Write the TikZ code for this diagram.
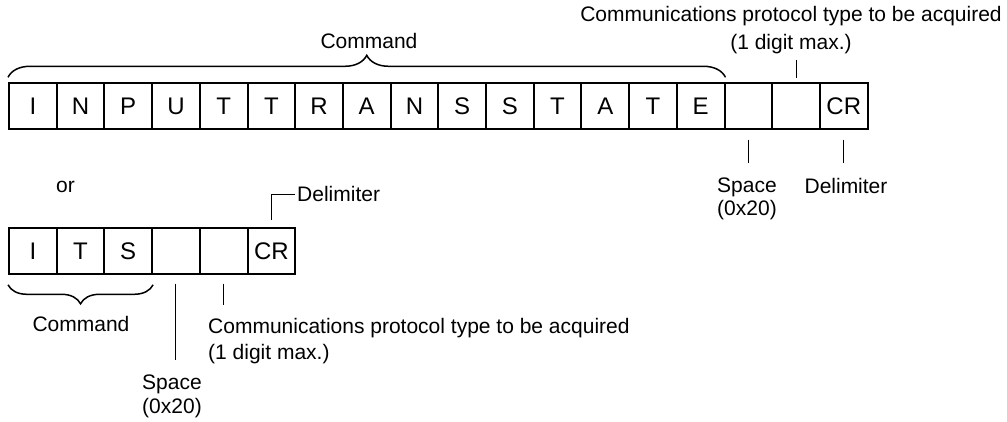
\documentclass[tikz,border=0pt]{standalone}
\usepackage{fontspec}
\setmainfont{Liberation Sans}
\usetikzlibrary{decorations.pathreplacing,calc}
\begin{document}
\begin{tikzpicture}[x=1pt,y=-1pt,
  cell/.style={draw, line width=2pt, minimum width=47.7pt, minimum height=46pt,
    inner sep=0pt, text height=17.2pt, text depth=0pt,
    font=\fontsize{24}{28}\selectfont},
  lbl/.style={inner sep=0pt, font=\fontsize{21}{24}\selectfont},
  leader/.style={line width=1pt},
  bracestyle/.style={line width=1.5pt, decorate, decoration={brace, amplitude=#1}},
]
\useasboundingbox (0,0) rectangle (1007,422);

% top row
\foreach \t [count=\i] in {I,N,P,U,T,T,R,A,N,S,S,T,A,T,E,{},{},CR}
  \node[cell] (t\i) at ({9+(\i-0.5)*47.7},106.3) {\t};

% bottom row
\foreach \t [count=\i] in {I,T,S,{},{},CR}
  \node[cell] (b\i) at ({9+(\i-0.5)*47.7},250.8) {\t};

% top labels
\node[lbl, anchor=base] (cmd1) at (369,48.3) {Command};
\node[lbl, anchor=north, align=center, font=\fontsize{21}{28.5}\selectfont] (proto1) at (791,5.7)
  {Communications protocol type to be acquired\\(1 digit max.)};
\node[lbl, anchor=north, align=center, font=\fontsize{21}{23}\selectfont] (spc1) at (747,177.7) {Space\\(0x20)};
\node[lbl, anchor=north] (delim1) at (846,177.7) {Delimiter};

\node[lbl, anchor=base] (or) at (65.5,193) {or};

% bottom labels
\node[lbl, anchor=base west] (delim2) at (297,202) {Delimiter};
\node[lbl, anchor=base] (cmd2) at (81,331) {Command};
\node[lbl, anchor=north, align=center, font=\fontsize{21}{23.5}\selectfont] (spc2) at (172,374.7) {Space\\(0x20)};
\node[lbl, anchor=north west, align=left, font=\fontsize{21}{26}\selectfont] (proto2) at (208,317.7)
  {Communications protocol type to be acquired\\(1 digit max.)};

% braces
\draw[bracestyle=22] ($(t1.north west)+(0,-5)$) -- ($(t15.north east)+(0,-5)$);
\draw[bracestyle=19] ($(b3.south east)+(0,10)$) -- ($(b1.south west)+(0,10)$);

% leaders, top diagram
\draw[leader, shorten <=4.3pt, shorten >=6pt] (t17.north) -- (t17.north |- proto1.south);
\draw[leader, shorten <=9.7pt, shorten >=14.7pt] (t16.south) -- (t16.south |- spc1.north);
\draw[leader, shorten <=9.7pt, shorten >=14.7pt] (t18.south) -- (t18.south |- delim1.north);

% leaders, bottom diagram
\draw[leader, line width=1.2pt, shorten <=6.6pt] (b6.north) |- ($(delim2.west)+(-2,0)$);
\draw[leader, shorten <=8.7pt, shorten >=14.7pt] (b4.south) -- (b4.south |- spc2.north);
\draw[leader, shorten <=8.7pt, shorten >=12.7pt] (b5.south) -- (b5.south |- proto2.north);
\end{tikzpicture}
\end{document}
